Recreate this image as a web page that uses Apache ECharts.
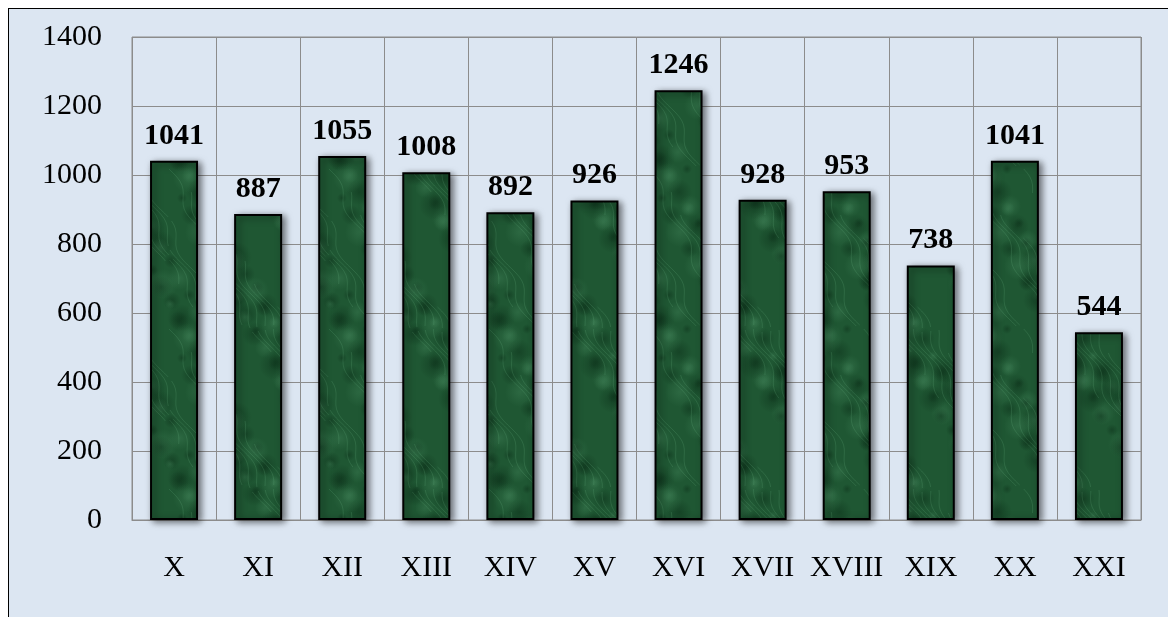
<!DOCTYPE html>
<html>
<head>
<meta charset="utf-8">
<script src="https://cdn.jsdelivr.net/npm/echarts@6/dist/echarts.min.js"></script>
<style>
  html, body { margin: 0; padding: 0; background: #ffffff; overflow: hidden; }
  #frame {
    position: absolute; left: 8px; top: 8px; width: 1200px; height: 640px;
    border: 1.5px solid #000; background: #dce6f2; box-sizing: border-box;
  }
  #chart { position: absolute; left: 0; top: 0; width: 1160px; height: 620px; }
</style>
</head>
<body>
<div id="frame"><div id="chart"></div></div>
<script>
// Centuries and counts
const centuries = ['X', 'XI', 'XII', 'XIII', 'XIV', 'XV', 'XVI', 'XVII', 'XVIII', 'XIX', 'XX', 'XXI'];
const counts = [1041, 887, 1055, 1008, 892, 926, 1246, 928, 953, 738, 1041, 544];
const yTicks = [0, 200, 400, 600, 800, 1000, 1200, 1400];

const serif = '"Liberation Serif", "Times New Roman", "DejaVu Serif", serif';

// deterministic green "marble" fill for the bars
function marbleTexture() {
    const size = 160;
    const c = document.createElement('canvas');
    c.width = size; c.height = size;
    const g = c.getContext('2d');
    g.fillStyle = '#1f5733';
    g.fillRect(0, 0, size, size);
    // many small soft dark and light clouds
    for (let i = 0; i < 60; i++) {
        const cx = (i * 47 + 13) % size, cy = (i * 71 + 29 + (i % 7) * 11) % size;
        const r = 5 + (i * 7) % 11;
        const dark = i % 5 < 3;
        const col = dark ? '8,40,20' : '80,150,105';
        const a = dark ? 0.4 : 0.28;
        for (let ox = -size; ox <= size; ox += size) {
            for (let oy = -size; oy <= size; oy += size) {
                const rg = g.createRadialGradient(cx + ox, cy + oy, 0, cx + ox, cy + oy, r);
                rg.addColorStop(0, 'rgba(' + col + ',' + a + ')');
                rg.addColorStop(1, 'rgba(' + col + ',0)');
                g.fillStyle = rg;
                g.fillRect(cx + ox - r, cy + oy - r, 2 * r, 2 * r);
            }
        }
    }
    // faint light veins
    g.lineWidth = 0.8;
    for (let i = 0; i < 9; i++) {
        g.strokeStyle = 'rgba(130,205,150,0.2)';
        g.beginPath();
        let prev = null;
        for (let t = 0; t <= size; t += 4) {
            const x = (i * 18 + t * 0.5 + 5 * Math.sin((t + i * 19) / 9)) % size;
            const y = (t + i * 23) % size;
            if (prev === null || Math.abs(x - prev.x) > 10 || Math.abs(y - prev.y) > 10) g.moveTo(x, y);
            else g.lineTo(x, y);
            prev = { x, y };
        }
        g.stroke();
    }
    return c;
}

const chart = echarts.init(document.getElementById('chart'), null, { renderer: 'canvas' });

chart.setOption({
    animation: false,
    backgroundColor: 'transparent',
    grid: {
        left: 123, top: 28, width: 1009, height: 483,
        show: true, borderColor: '#8c8c8c', borderWidth: 1, backgroundColor: 'transparent'
    },
    xAxis: {
        type: 'category',
        data: centuries,
        axisLine: { show: true, lineStyle: { color: '#8c8c8c', width: 1 } },
        axisTick: { show: false },
        axisLabel: {
            color: '#000', fontSize: 30, fontFamily: serif, margin: 33,
            interval: 0, hideOverlap: false
        },
        splitLine: { show: true, interval: 0, lineStyle: { color: '#8c8c8c', width: 1 } }
    },
    yAxis: {
        type: 'value',
        min: yTicks[0],
        max: yTicks[yTicks.length - 1],
        interval: 200,
        axisLine: { show: false },
        axisTick: { show: false },
        axisLabel: {
            color: '#000', fontSize: 30, fontFamily: serif, margin: 30,
            formatter: (v) => String(v)
        },
        splitLine: { show: true, lineStyle: { color: '#8c8c8c', width: 1 } }
    },
    series: [{
        type: 'bar',
        data: counts,
        barWidth: 48,
        itemStyle: {
            color: { image: marbleTexture(), repeat: 'repeat' },
            borderColor: '#000',
            borderWidth: 2,
            shadowColor: 'rgba(0,0,0,0.55)',
            shadowBlur: 7,
            shadowOffsetX: 3,
            shadowOffsetY: 2
        },
        label: {
            show: true,
            position: 'top',
            distance: 10,
            color: '#000',
            fontSize: 30,
            fontWeight: 'bold',
            fontFamily: serif
        }
    }]
});
</script>
</body>
</html>
